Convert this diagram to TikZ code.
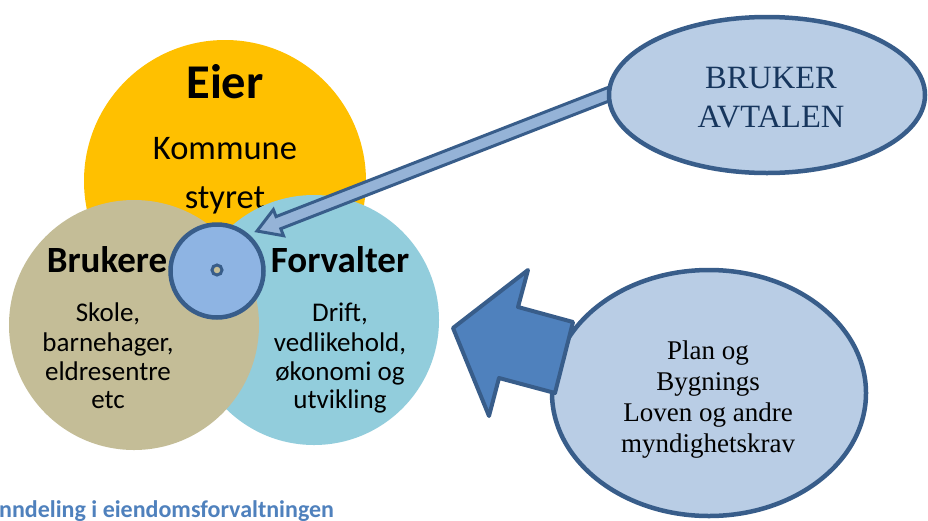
\documentclass[tikz,border=0pt]{standalone}
\usepackage{fontspec}
\setmainfont{Carlito}
\newfontfamily\timesf{Liberation Serif}
\usetikzlibrary{calc,shapes.geometric}
\definecolor{eiery}{HTML}{FFC000}
\definecolor{tanc}{HTML}{C4BD97}
\definecolor{forvc}{HTML}{92CDDC}
\definecolor{smallc}{HTML}{8EB4E3}
\definecolor{outl}{HTML}{385D8A}
\definecolor{ellc}{HTML}{B9CDE5}
\definecolor{thinar}{HTML}{95B3D7}
\definecolor{blockar}{HTML}{4F81BD}
\definecolor{navy}{HTML}{17365D}
\definecolor{capblue}{HTML}{4F81BD}
\begin{document}
\begin{tikzpicture}[x=1pt,y=-1pt,
  bigcirc/.style={circle,inner sep=0pt,draw=none},
  head/.style={anchor=base,inner sep=0pt,font=\bfseries\fontsize{37}{44}\selectfont},
  body/.style={anchor=base,inner sep=0pt,font=\fontsize{27}{32}\selectfont},
  ovalbox/.style={ellipse,draw=outl,line width=4.5pt,fill=ellc,inner sep=0pt},
  sertext/.style={anchor=base,inner sep=0pt,font=\timesf\fontsize{27}{31}\selectfont},
  bigser/.style={anchor=base,inner sep=0pt,text=navy,font=\timesf\fontsize{32.5}{38}\selectfont}]
\useasboundingbox (0,0) rectangle (928,520);
\fill[white] (0,0) rectangle (928,520);

% Eier circle
\node[bigcirc,fill=eiery,minimum size=282pt] (eier) at (225,181) {};
\node[anchor=base,inner sep=0pt,font=\bfseries\fontsize{48.5}{54}\selectfont] (eiert) at (225,98) {Eier};
\node[anchor=base,inner sep=0pt,font=\fontsize{34.5}{40}\selectfont] (komm) at (225,159) {Kommune};
\node[anchor=base,inner sep=0pt,font=\fontsize{34.5}{40}\selectfont] (styr) at (225,208) {styret};

% Forvalter and Brukere circles
\node[bigcirc,fill=forvc,minimum size=250pt] (forv) at (314,320) {};
\node[bigcirc,fill=tanc,minimum size=250pt] (bruk) at (134,325) {};

\node[head] (brukt) at (107,272) {Brukere};
\node[body] (b1) at (108,321) {Skole,};
\node[body] (b2) at (108,351) {barnehager,};
\node[body] (b3) at (108,380) {eldresentre};
\node[body] (b4) at (108,408) {etc};

\node[head] (forvt) at (340,272) {Forvalter};
\node[body] (f1) at (340,321) {Drift,};
\node[body] (f2) at (340,351) {vedlikehold,};
\node[body] (f3) at (340,380) {økonomi og};
\node[body] (f4) at (340,408) {utvikling};

% small centre circle
\node[circle,draw=outl,line width=4.5pt,fill=smallc,minimum size=93pt,inner sep=0pt] (hub) at (217,271) {};
\node[circle,draw=outl,line width=3pt,fill=tanc,minimum size=10pt,inner sep=0pt] (hubdot) at (217,270) {};

% thin arrow from BRUKER AVTALEN
\coordinate (atip) at (257,231);
\coordinate (atail) at (640,82);
\coordinate (hb) at ($(atip)!23pt!(atail)$);
\filldraw[fill=thinar,draw=outl,line width=3pt,line join=miter]
  (atip) -- ($(hb)!14pt!90:(atail)$) -- ($(hb)!6.5pt!90:(atail)$)
  -- ($(atail)!6.5pt!-90:(atip)$) -- ($(atail)!6.5pt!90:(atip)$)
  -- ($(hb)!6.5pt!-90:(atail)$) -- ($(hb)!14pt!-90:(atail)$) -- cycle;

% BRUKER AVTALEN ellipse
\node[ovalbox,minimum width=316pt,minimum height=156pt] (bruker) at (767,95) {};
\node[bigser] (br1) at (771,88) {BRUKER};
\node[bigser] (br2) at (771,127) {AVTALEN};

% Plan og ellipse
\node[ovalbox,minimum width=314pt,minimum height=246pt] (plan) at (709,393) {};
\node[sertext] (p1) at (708,359) {Plan og};
\node[sertext] (p2) at (708,390) {Bygnings};
\node[sertext] (p3) at (708,421) {Loven og andre};
\node[sertext] (p4) at (708,452) {myndighetskrav};

% block arrow
\filldraw[fill=blockar,draw=outl,line width=4pt,line join=round]
  (453,328) -- (528,270) -- (518,307) -- (573,322) -- (555,393) -- (499,378) -- (489,416) -- cycle;

% caption
\node[anchor=base west,inner sep=0pt,text=capblue,font=\bfseries\fontsize{24}{28}\selectfont] (cap) at (-1,517) {nndeling i eiendomsforvaltningen};
\end{tikzpicture}
\end{document}
